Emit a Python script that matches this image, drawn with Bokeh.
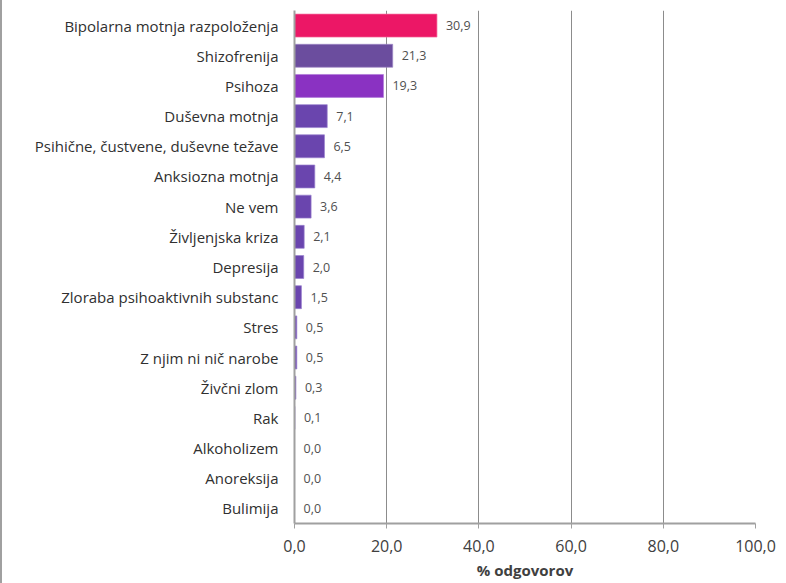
from bokeh.plotting import figure
from bokeh.models import ColumnDataSource, FixedTicker, FactorRange
from bokeh.embed import file_html
from bokeh.resources import INLINE
from bokeh.core.properties import value

categories = [
    "Bipolarna motnja razpoloženja", "Shizofrenija", "Psihoza", "Duševna motnja",
    "Psihične, čustvene, duševne težave", "Anksiozna motnja", "Ne vem",
    "Življenjska kriza", "Depresija", "Zloraba psihoaktivnih substanc", "Stres",
    "Z njim ni nič narobe", "Živčni zlom", "Rak", "Alkoholizem", "Anoreksija", "Bulimija",
]
values = [30.9, 21.3, 19.3, 7.1, 6.5, 4.4, 3.6, 2.1, 2.0, 1.5, 0.5, 0.5, 0.3, 0.1, 0.0, 0.0, 0.0]
x_ticks = [0, 20, 40, 60, 80, 100]
x_tick_labels = ["0,0", "20,0", "40,0", "60,0", "80,0", "100,0"]

colors = ["#ec1766", "#6b4d9e", "#8a32c2"] + ["#6a45ae"] * (len(categories) - 3)
highlight = ["#f46a9a", "#9d86c4", "#b07ada"] + ["#9a82cf"] * (len(categories) - 3)

FONT = "Open Sans"

src = ColumnDataSource(dict(
    cat=categories,
    val=values,
    lbl=[f"{v:.1f}".replace(".", ",") for v in values],
    col=colors,
    hl=highlight,
))

p = figure(
    width=784, height=583,
    y_range=FactorRange(factors=list(reversed(categories)), range_padding=0.0),
    x_range=(0, 100),
    output_backend="svg", toolbar_location=None,
    min_border_left=292, min_border_right=31, min_border_top=10, min_border_bottom=60,
)
p.styles = {"border-left": "2px solid #a0a0a0"}

p.hbar(y="cat", right="val", left=0, height=0.76, source=src,
       fill_color="col", line_color=None)
# light top edge to imitate the gradient sheen
p.hbar(y="cat", right="val", left=0, height=0.76, source=src,
       fill_color=None, line_color="hl", line_width=1, line_alpha=0.7)

p.text(x="val", y="cat", text="lbl", source=src, x_offset=9,
       text_align="left", text_baseline="middle",
       text_font=value(FONT), text_font_size="12.5px", text_color="#505050")

p.xaxis.ticker = FixedTicker(ticks=x_ticks)
p.xaxis.major_label_overrides = {t: l for t, l in zip(x_ticks, x_tick_labels)}
p.xaxis.axis_label = "% odgovorov"
p.xaxis.axis_label_text_font = FONT
p.xaxis.axis_label_text_font_style = "bold"
p.xaxis.axis_label_text_font_size = "15px"
p.xaxis.axis_label_text_color = "#404040"
p.xaxis.axis_label_standoff = 5
p.xaxis.major_label_text_font = FONT
p.xaxis.major_label_text_font_size = "16px"
p.xaxis.major_label_text_color = "#404040"
p.xaxis.major_label_standoff = 11
p.xaxis.axis_line_color = "#a0a0a0"
p.xaxis.axis_line_width = 2
p.xaxis.major_tick_line_color = "#a0a0a0"
p.xaxis.major_tick_out = 5
p.xaxis.major_tick_in = 0
p.xaxis.minor_tick_line_color = None

p.yaxis.major_label_text_font = FONT
p.yaxis.major_label_text_font_size = "15px"
p.yaxis.major_label_text_color = "#303030"
p.yaxis.major_label_standoff = 10
p.yaxis.axis_line_color = "#a0a0a0"
p.yaxis.axis_line_width = 2
p.yaxis.major_tick_line_color = None

p.xgrid.ticker = FixedTicker(ticks=x_ticks[1:])
p.xgrid.grid_line_color = "#8c8c8c"
p.xgrid.grid_line_width = 1
p.ygrid.grid_line_color = None
p.outline_line_color = None

open("out.html", "w").write(file_html(p, INLINE))
